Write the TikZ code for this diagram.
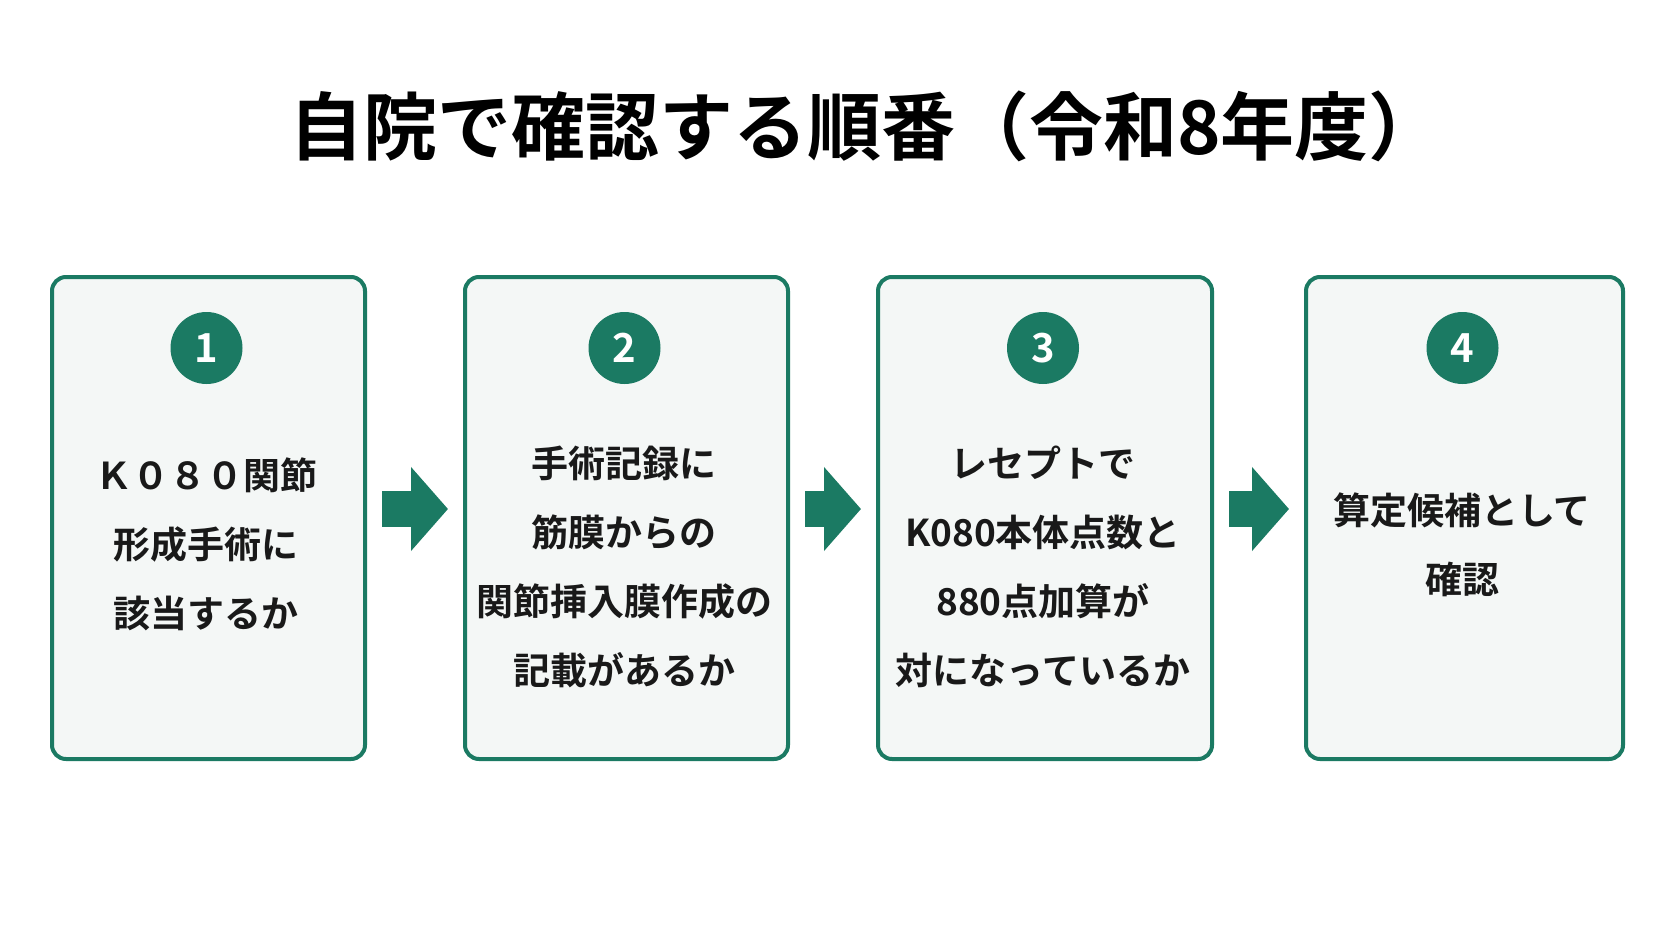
\documentclass[tikz,border=0pt]{standalone}
\usepackage{fontspec}
\setmainfont{Noto Sans CJK JP}[BoldFont={Noto Sans CJK JP Bold}]
\usetikzlibrary{arrows.meta}
\definecolor{gr}{HTML}{1B7A63}
\definecolor{bx}{HTML}{F4F7F6}
\begin{document}
\begin{tikzpicture}[x=1pt,y=-1pt,
 box/.style={draw=gr,line width=4pt,fill=bx,rounded corners=14pt,inner sep=0},
 num/.style={circle,fill=gr,minimum size=72pt,inner sep=0,text=white,font=\fontsize{40}{40}\selectfont\bfseries},
 txt/.style={align=center,font=\fontsize{37}{69}\selectfont\bfseries,text=black!90},
 arr/.style={gr,line width=36pt,-{Triangle[length=37pt,width=82pt]},shorten <=15pt,shorten >=15pt}]
\useasboundingbox[fill=white] (0,0) rectangle (1672,941);
\node[font=\fontsize{74}{74}\selectfont\bfseries] (title) at (866,126) {自院で確認する順番（令和8年度）};
\foreach \i/\l/\r in {1/50/363,2/463/786,3/876/1210,4/1304/1621}{
 \node[box,minimum width={\r-\l},minimum height=482pt,anchor=north west] (b\i) at (\l,275) {};
 \node[num] (n\i) at ({(\l+\r)/2},348) {\i};
}
\node[txt] (t1) at (206,544) {Ｋ０８０関節\\形成手術に\\該当するか};
\node[txt] (t2) at (624,567) {手術記録に\\筋膜からの\\関節挿入膜作成の\\記載があるか};
\node[txt] (t3) at (1043,567) {レセプトで\\K080本体点数と\\880点加算が\\対になっているか};
\node[txt] (t4) at (1462,545) {算定候補として\\確認};
\draw[arr] (b1.east|-0,509) -- (b2.west|-0,509);
\draw[arr] (b2.east|-0,509) -- (b3.west|-0,509);
\draw[arr] (b3.east|-0,509) -- (b4.west|-0,509);
\end{tikzpicture}
\end{document}
